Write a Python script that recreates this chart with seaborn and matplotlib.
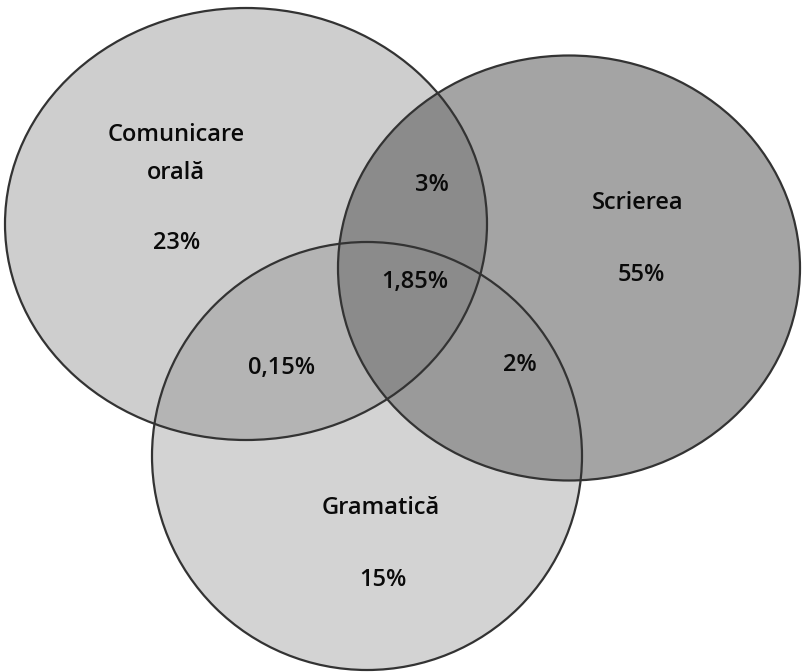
import matplotlib
matplotlib.use("Agg")
import matplotlib.pyplot as plt
from matplotlib.patches import Ellipse
import seaborn as sns

# seturile (nume, procent)
set_names = ["Comunicare", "Scrierea", "Gramatică"]
set_values = ["23%", "55%", "15%"]

# intersectii
pair_names = ["C∩S", "C∩G", "S∩G"]
pair_values = ["3%", "0,15%", "2%"]
triple_value = "1,85%"

sns.set_theme(style="white")
plt.rcParams['font.family'] = ['Open Sans', 'DejaVu Sans']

fig = plt.figure(figsize=(8.04, 6.72), dpi=100)
ax = fig.add_axes([0, 0, 1, 1])
ax.set_xlim(0, 804)
ax.set_ylim(672, 0)
ax.axis("off")

# elipse: centru, latime, inaltime, culoare, alpha
shapes = [((246, 224), 482, 432, "#8c8c8c", 0.42),
          ((569, 268), 462, 425, "#4a4a4a", 0.5),
          ((367, 456), 430, 428, "#8c8c8c", 0.38)]
for (c, w, h, col, a) in shapes:
    ax.add_patch(Ellipse(c, w, h, facecolor=col, alpha=a, edgecolor="none"))
for (c, w, h, col, a) in shapes:
    ax.add_patch(Ellipse(c, w, h, facecolor="none", edgecolor="#333333", lw=1.6))

fs = 17
kw = dict(ha="center", va="center", fontsize=fs, color="#0a0a0a", fontweight="semibold")
# etichete seturi
name_pos = [(176, 135), (638, 203), (381, 508)]
value_pos = [(177, 243), (641, 275), (383, 580)]
for n, v, p, q in zip(set_names, set_values, name_pos, value_pos):
    ax.text(p[0], p[1], n, **kw)
    ax.text(q[0], q[1], v, **kw)
ax.text(176, 173, "orală", **kw)

pair_pos = [(432, 185), (282, 368), (520, 365)]
for v, p in zip(pair_values, pair_pos):
    ax.text(p[0], p[1], v, **kw)
ax.text(415, 282, triple_value, **kw)

fig.savefig("out.png", dpi=100, facecolor="white")
